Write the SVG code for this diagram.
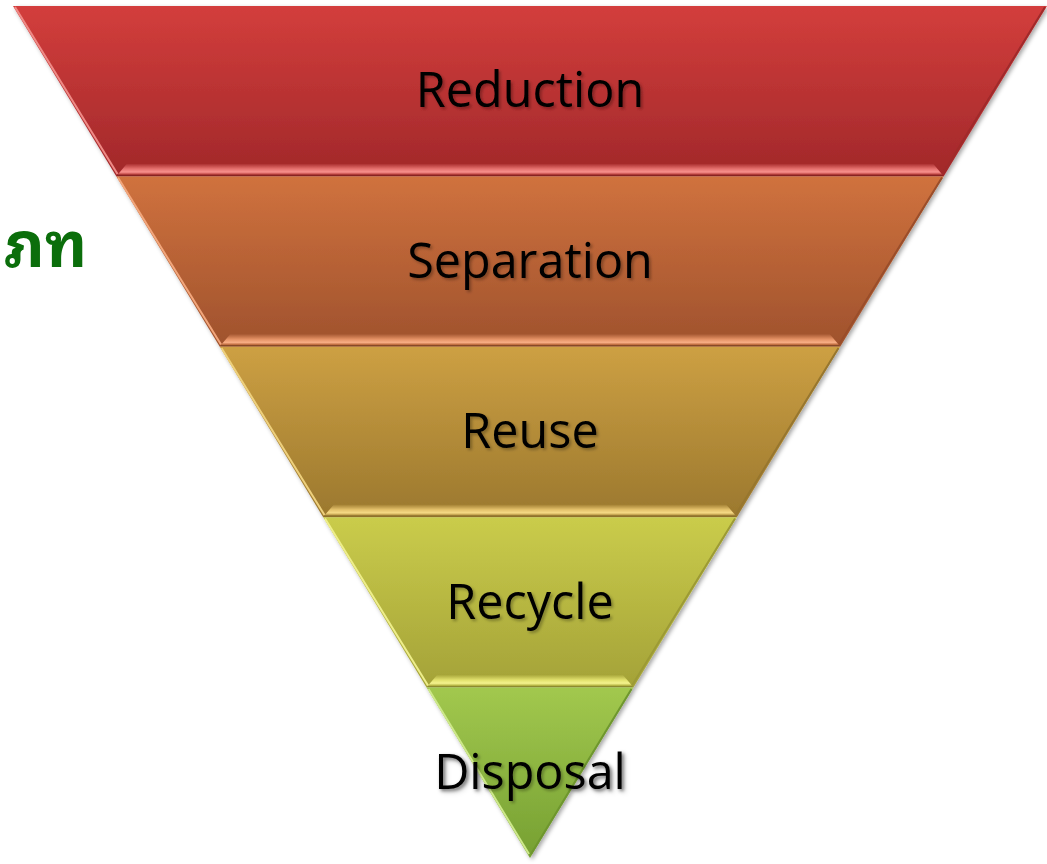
<svg xmlns="http://www.w3.org/2000/svg" width="1047" height="864" viewBox="0 0 1047 864">
  <defs>
    <style>
      .lbl { font-family: "Open Sans", "Liberation Sans", sans-serif; font-size: 48.5px; fill: #000; text-anchor: middle; filter: url(#tsh); }
      .thai { font-family: "Noto Sans Thai Looped", "Noto Sans Thai", "Noto Sans", "DejaVu Sans", sans-serif; font-size: 62px; font-weight: bold; fill: #0b6e0b; }
      .hl { stroke-width: 2; fill: none; }
    </style>
    <filter id="tsh" x="-10%" y="-20%" width="120%" height="150%">
      <feDropShadow dx="2" dy="2" stdDeviation="1.5" flood-color="#000" flood-opacity="0.3"/>
    </filter>
    <filter id="osh" x="-5%" y="-5%" width="110%" height="110%">
      <feDropShadow dx="2" dy="2" stdDeviation="2" flood-color="#000" flood-opacity="0.35"/>
    </filter>
    <linearGradient id="g0" x1="0" y1="0" x2="0" y2="1">
      <stop offset="0" stop-color="#d33e3c"/><stop offset="1" stop-color="#a1282a"/>
    </linearGradient>
    <linearGradient id="g1" x1="0" y1="0" x2="0" y2="1">
      <stop offset="0" stop-color="#d0723e"/><stop offset="1" stop-color="#9f522d"/>
    </linearGradient>
    <linearGradient id="g2" x1="0" y1="0" x2="0" y2="1">
      <stop offset="0" stop-color="#cda043"/><stop offset="1" stop-color="#9b782e"/>
    </linearGradient>
    <linearGradient id="g3" x1="0" y1="0" x2="0" y2="1">
      <stop offset="0" stop-color="#cacc4b"/><stop offset="1" stop-color="#a4a238"/>
    </linearGradient>
    <linearGradient id="g4" x1="0" y1="0" x2="0" y2="1">
      <stop offset="0" stop-color="#a2c84e"/><stop offset="1" stop-color="#76a032"/>
    </linearGradient>
    <linearGradient id="b0" x1="0" y1="0" x2="0" y2="1">
      <stop offset="0" stop-color="#a6292b"/><stop offset="0.45" stop-color="#e5706d"/><stop offset="0.72" stop-color="#f8928e"/><stop offset="0.9" stop-color="#c24643"/><stop offset="1" stop-color="#6e1a1a"/>
    </linearGradient>
    <linearGradient id="b1" x1="0" y1="0" x2="0" y2="1">
      <stop offset="0" stop-color="#a2542e"/><stop offset="0.45" stop-color="#e49164"/><stop offset="0.72" stop-color="#f8ae84"/><stop offset="0.9" stop-color="#c06c40"/><stop offset="1" stop-color="#6a3a1e"/>
    </linearGradient>
    <linearGradient id="b2" x1="0" y1="0" x2="0" y2="1">
      <stop offset="0" stop-color="#9e7b2f"/><stop offset="0.45" stop-color="#e3c06a"/><stop offset="0.72" stop-color="#f6da86"/><stop offset="0.9" stop-color="#bd9a45"/><stop offset="1" stop-color="#6a5420"/>
    </linearGradient>
    <linearGradient id="b3" x1="0" y1="0" x2="0" y2="1">
      <stop offset="0" stop-color="#a6a439"/><stop offset="0.45" stop-color="#e2e16c"/><stop offset="0.72" stop-color="#f4f38e"/><stop offset="0.9" stop-color="#bcbb48"/><stop offset="1" stop-color="#6e6c22"/>
    </linearGradient>
  </defs>

  <rect width="1047" height="864" fill="#ffffff"/>

  <g id="thai-label">
    <text class="thai" x="4" y="267">ภท</text>
  </g>

  <g id="pyramid" filter="url(#osh)">
    <g id="reduction">
      <polygon points="13,6 1047,6 943.6,176.4 116.4,176.4" fill="url(#g0)"/>
      <polygon points="127,163.4 933,163.4 943,175.4 117,175.4" fill="url(#b0)"/>
      <line class="hl" x1="15" y1="7" x2="117.5" y2="174" stroke="#ef8a86"/>
      <line class="hl" x1="1045" y1="7" x2="942.5" y2="174" stroke="#a02a2c"/>
      <text class="lbl" x="530" y="107">Reduction</text>
    </g>
    <g id="separation">
      <polygon points="116.4,176.4 943.6,176.4 840.2,346.8 219.8,346.8" fill="url(#g1)"/>
      <polygon points="230.5,333.8 829.5,333.8 839.6,345.8 220.4,345.8" fill="url(#b1)"/>
      <line class="hl" x1="118" y1="177.5" x2="221" y2="344.5" stroke="#f2a67b"/>
      <line class="hl" x1="942" y1="177.5" x2="839" y2="344.5" stroke="#9a4e2a"/>
      <text class="lbl" x="530" y="278">Separation</text>
    </g>
    <g id="reuse">
      <polygon points="219.8,346.8 840.2,346.8 736.8,517.2 323.2,517.2" fill="url(#g2)"/>
      <polygon points="334,504.2 726,504.2 736.2,516.2 323.8,516.2" fill="url(#b2)"/>
      <line class="hl" x1="221.5" y1="348" x2="324.5" y2="515" stroke="#eed07c"/>
      <line class="hl" x1="838.5" y1="348" x2="735.5" y2="515" stroke="#97762e"/>
      <text class="lbl" x="530" y="448">Reuse</text>
    </g>
    <g id="recycle">
      <polygon points="323.2,517.2 736.8,517.2 633.4,687.6 426.6,687.6" fill="url(#g3)"/>
      <polygon points="437.5,674.6 622.5,674.6 632.8,686.6 427.2,686.6" fill="url(#b3)"/>
      <line class="hl" x1="325" y1="518.5" x2="428" y2="685.5" stroke="#eeee8a"/>
      <line class="hl" x1="735" y1="518.5" x2="632" y2="685.5" stroke="#9c9a34"/>
      <text class="lbl" x="530" y="619">Recycle</text>
    </g>
    <g id="disposal">
      <polygon points="426.6,687.6 633.4,687.6 530,858" fill="url(#g4)"/>
      <line class="hl" x1="428.5" y1="689" x2="529" y2="854" stroke="#cde88a"/>
      <line class="hl" x1="631.5" y1="689" x2="531" y2="854" stroke="#6e962e"/>
      <text class="lbl" x="530" y="789">Disposal</text>
    </g>
  </g>
</svg>
